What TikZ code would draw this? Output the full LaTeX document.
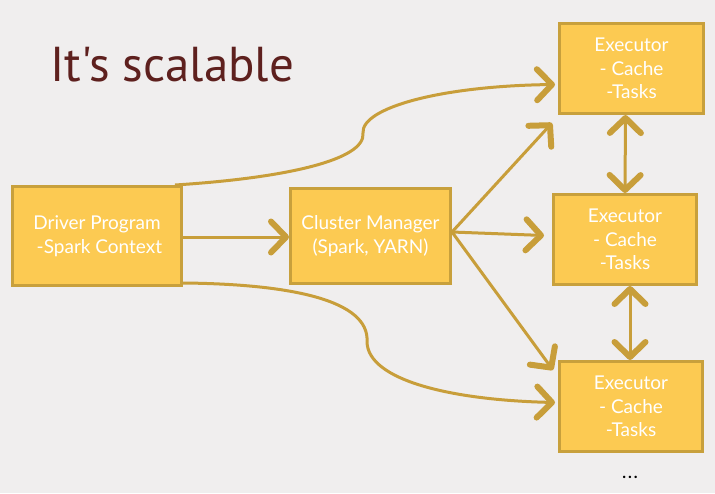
\documentclass[tikz,border=0pt]{standalone}
\usepackage{fontspec}
\setmainfont{Lato}
\newfontfamily\titlefont{PT Sans}
\usetikzlibrary{arrows.meta}
\definecolor{slidebg}{RGB}{240,238,238}
\definecolor{boxfill}{RGB}{252,202,82}
\definecolor{boxline}{RGB}{200,160,60}
\definecolor{arrowcol}{RGB}{200,158,58}
\definecolor{titlecol}{RGB}{94,32,30}
\begin{document}
\begin{tikzpicture}[
        x=1pt, y=-1pt,
        font=\fontsize{19}{23.5}\selectfont,
        block/.style={draw=boxline, line width=3pt, fill=boxfill, text=white,
            align=center, inner sep=0pt},
        conn/.style={draw=arrowcol, line width=3pt,
            -{Straight Barb[length=15pt,width=31pt,line width=6pt,round]}},
        dconn/.style={conn,
            {Straight Barb[length=15pt,width=31pt,line width=6pt,round]}-{Straight Barb[length=15pt,width=31pt,line width=6pt,round]}}
    ]
    % slide background
    \fill[slidebg] (0,0) rectangle (715,493);
    \node[text=titlecol, anchor=base west, font=\titlefont\fontsize{49}{52}\selectfont]
        (title) at (47,81) {It's scalable};
    % boxes
    \node[block, minimum width=169pt, minimum height=99pt] (driver) at (97,236)
        {Driver Program\\ \ -Spark Context};
    \node[block, minimum width=160pt, minimum height=95pt] (clustermgr) at (370.5,236)
        {Cluster Manager\\(Spark, YARN)};
    \node[block, minimum width=144pt, minimum height=90pt] (executor1) at (631.5,68.5)
        {Executor\\- Cache\\-Tasks};
    \node[block, minimum width=143pt, minimum height=90pt] (executor2) at (625,239.5)
        {Executor\\- Cache\\-Tasks};
    \node[block, minimum width=143pt, minimum height=90pt] (executor3) at (631,406.5)
        {Executor\\- Cache\\-Tasks};
    \node[font=\bfseries\fontsize{16}{18}\selectfont] (more) at (630,477) {.\kern2pt.\kern2pt.};
    % arrows
    \draw[conn] (driver.east |- 0,237) -- (clustermgr.west |- 0,237);
    \draw[conn] ([xshift=-8pt]driver.north east)
        .. controls (285,178) and (366,160) .. (363,133)
        .. controls (361,108) and (440,86) .. ([xshift=-3pt,yshift=-16pt]executor1.west);
    \draw[conn] ([yshift=4pt]driver.south east)
        .. controls (290,284) and (370,300) .. (367,342)
        .. controls (368,380) and (450,400) .. ([xshift=-3pt,yshift=4pt]executor3.west);
    \draw[conn] ([yshift=4pt]clustermgr.east) -- ([xshift=-6pt,yshift=-8pt]executor1.south west);
    \draw[conn] ([yshift=4pt]clustermgr.east) -- ([xshift=-8pt,yshift=4pt]executor2.west);
    \draw[conn] ([yshift=4pt]clustermgr.east) -- ([xshift=-5pt,yshift=-10pt]executor3.north west);
    \draw[dconn] ([xshift=-6pt]executor1.south) -- (executor2.north);
    \draw[dconn] ([xshift=5pt]executor2.south) -- ([xshift=-1pt]executor3.north);
\end{tikzpicture}
\end{document}
